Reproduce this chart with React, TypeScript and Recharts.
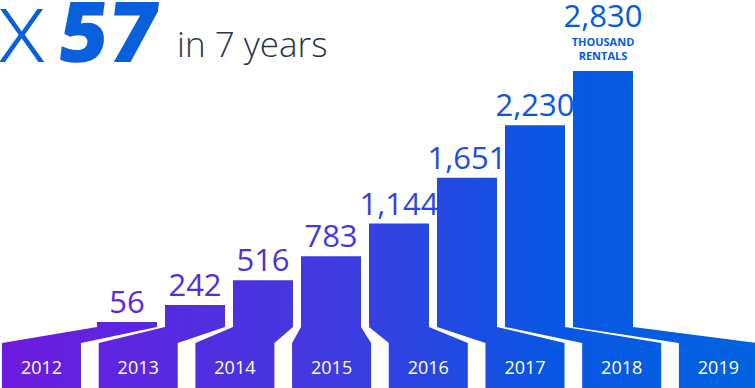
import { BarChart, Bar, XAxis, YAxis, LabelList } from "recharts";

const years = ["2012", "2013", "2014", "2015", "2016", "2017", "2018", "2019"];
const rentals = [56, 242, 516, 783, 1144, 1651, 2230, 2830];
const valueLabels = ["56", "242", "516", "783", "1,144", "1,651", "2,230", "2,830"];

const data = years.map((year, i) => ({
  year,
  rentals: rentals[i],
  label: valueLabels[i],
}));

const W = 755;
const H = 388;
// bottom row of year boxes
const BOX_LEFT = 2;
const BOX_STEP = 96.7;
const BOX_W = 79;
const BOX_TOP = 343;
const NUM_FONT = "'Open Sans', sans-serif";

function BarShape(props: any) {
  const { x, y, width, height, index, payload } = props;
  const bottom = y + height;
  const bx = BOX_LEFT + index * BOX_STEP;
  const pts = [
    [x, y],
    [x + width, y],
    [x + width, bottom],
    [bx + BOX_W, BOX_TOP],
    [bx + BOX_W, H],
    [bx, H],
    [bx, BOX_TOP],
    [x, bottom],
  ]
    .map((p) => p.join(","))
    .join(" ");
  return (
    <g>
      <polygon points={pts} fill="url(#barGrad)" />
      <text
        x={bx + BOX_W / 2}
        y={374}
        textAnchor="middle"
        fill="#fff"
        fontSize={18}
        fontFamily={NUM_FONT}
      >
        {payload.year}
      </text>
    </g>
  );
}

function ValueLabel(props: any) {
  const { x, y, width, index, value } = props;
  const cx = x + width / 2;
  const last = index === rentals.length - 1;
  return (
    <g fill="url(#barGrad)" fontFamily={NUM_FONT}>
      <text x={cx} y={last ? y - 44 : y - 9} textAnchor="middle" fontSize={31}>
        {value}
      </text>
      {last && (
        <>
          <text x={cx} y={y - 25} textAnchor="middle" fontSize={11} fontWeight={700}>
            THOUSAND
          </text>
          <text x={cx} y={y - 11} textAnchor="middle" fontSize={11} fontWeight={700}>
            RENTALS
          </text>
        </>
      )}
    </g>
  );
}

export default function App() {
  return (
    <div style={{ position: "absolute", left: 0, top: 0, width: W, height: H, background: "#fff" }}>
      <BarChart
        width={W}
        height={H}
        data={data}
        margin={{ top: 71, right: 0, bottom: 61, left: 0 }}
      >
        <defs>
          <linearGradient id="barGrad" gradientUnits="userSpaceOnUse" x1="0" y1="0" x2={W} y2="0">
            <stop offset="0%" stopColor="#6e1adf" />
            <stop offset="45%" stopColor="#3f3be1" />
            <stop offset="72%" stopColor="#0a56e3" />
            <stop offset="100%" stopColor="#0063df" />
          </linearGradient>
        </defs>
        <XAxis dataKey="year" hide padding={{ left: 93, right: 118 }} />
        <YAxis hide domain={[0, "dataMax"]} />
        <Bar dataKey="rentals" barSize={60} shape={<BarShape />} isAnimationActive={false}>
          <LabelList dataKey="label" content={<ValueLabel />} />
        </Bar>
      </BarChart>
      <svg
        width={340}
        height={72}
        style={{ position: "absolute", left: 0, top: 0 }}
        fontFamily="'Open Sans', sans-serif"
      >
        <text x={-3} y={62} fontSize={100} fontWeight={300} fill="#0a5fdc">
          x
        </text>
        <text
          x={0}
          y={0}
          fontSize={84}
          fontWeight={800}
          fill="#0a5fdc"
          transform="translate(56 62) skewX(-7)"
        >
          57
        </text>
        <text x={177} y={57} fontSize={35} fontWeight={300} fill="#2b3445">
          in 7 years
        </text>
      </svg>
    </div>
  );
}
